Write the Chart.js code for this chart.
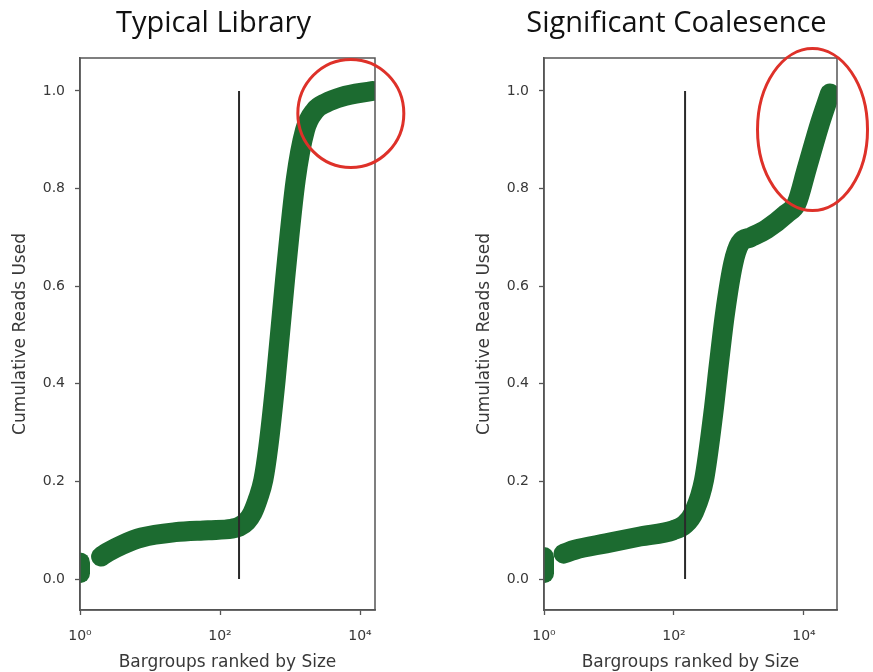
<!DOCTYPE html>
<html>
<head>
<meta charset="utf-8">
<script src="https://cdn.jsdelivr.net/npm/chart.js@4.4.1/dist/chart.umd.min.js"></script>
<style>
html, body { margin: 0; padding: 0; background: #fff; overflow: hidden; }
#wrap { position: relative; width: 873px; height: 672px; }
canvas { position: absolute; top: 0; }
</style>
</head>
<body>
<div id="wrap">
  <canvas id="typicalChart" width="436" height="672" style="left:0"></canvas>
  <canvas id="sigChart" width="437" height="672" style="left:436px"></canvas>
</div>
<script>
// axis ticks
const yTicks = [0, 0.2, 0.4, 0.6, 0.8, 1.0];
const xTicks = [1, 100, 10000];
const xTickLabels = ['10\u2070', '10\u00b2', '10\u2074'];

// typical library
const typicalFirstRank = [1, 1];
const typicalFirstReads = [0.012, 0.034];
const typicalRank = [2, 2.5, 4, 7.6, 23, 68, 147, 187, 240, 290, 350, 416, 490, 624, 849, 1206, 1638, 2276, 3200, 5470, 15000];
const typicalReads = [0.046, 0.055, 0.07, 0.085, 0.096, 0.1, 0.103, 0.107, 0.118, 0.135, 0.165, 0.203, 0.271, 0.408, 0.613, 0.818, 0.92, 0.96, 0.975, 0.988, 1.0];
const typicalCut = [187, 187];
const typicalCutReads = [0, 1];

// significant coalesence
const sigFirstRank = [1, 1];
const sigFirstReads = [0.012, 0.045];
const sigRank = [2, 3, 9, 30, 98, 148, 204, 290, 403, 490, 609, 817, 1036, 1500, 2668, 5420, 7710, 10990, 17630, 25100];
const sigReads = [0.052, 0.06, 0.073, 0.087, 0.1, 0.112, 0.138, 0.203, 0.34, 0.44, 0.544, 0.647, 0.688, 0.70, 0.717, 0.749, 0.77, 0.84, 0.934, 0.995];
const sigCut = [148, 148];
const sigCutReads = [0, 1];

const green = '#1c6b30';
const axisGray = '#555';
const textGray = '#383838';

function pts(xs, ys) {
    return xs.map((x, i) => ({ x: x, y: ys[i] }));
}

// frame on all four sides + title + red highlight ellipse
const decor = {
    id: 'decor',
    afterDatasetsDraw(chart) {
        const { ctx, chartArea } = chart;
        ctx.save();
        ctx.strokeStyle = axisGray;
        ctx.lineWidth = 1.5;
        ctx.strokeRect(chartArea.left, chartArea.top, chartArea.right - chartArea.left, chartArea.bottom - chartArea.top);
        ctx.restore();
    },
    afterDraw(chart, args, opts) {
        const { ctx, chartArea, scales } = chart;
        ctx.save();
        // title sits a little left of the plot box centre, like the original
        ctx.font = "29px 'Open Sans'";
        ctx.fillStyle = '#111';
        ctx.textAlign = 'center';
        ctx.textBaseline = 'alphabetic';
        ctx.fillText(opts.title, (chartArea.left + chartArea.right) / 2 - 14, 32);
        // red circle
        const cx = scales.x.getPixelForValue(opts.circleX);
        const cy = scales.y.getPixelForValue(opts.circleY);
        ctx.beginPath();
        ctx.ellipse(cx, cy, opts.rx, opts.ry, 0, 0, Math.PI * 2);
        ctx.strokeStyle = '#de3129';
        ctx.lineWidth = 3;
        ctx.stroke();
        ctx.restore();
    }
};

function makePanel(id, first, main, cut, xMax, padLeft, padRight, decorOpts) {
    return new Chart(document.getElementById(id), {
        type: 'line',
        data: {
            datasets: [{
                data: cut,
                borderColor: '#2a2a2a',
                borderWidth: 2,
                pointRadius: 0
            }, {
                data: main,
                borderColor: green,
                borderWidth: 20,
                borderCapStyle: 'round',
                borderJoinStyle: 'round',
                cubicInterpolationMode: 'monotone',
                pointRadius: 0,
                clip: 0
            }, {
                data: first,
                borderColor: green,
                borderWidth: 20,
                borderCapStyle: 'round',
                pointRadius: 0,
                clip: 0
            }]
        },
        options: {
            responsive: false,
            animation: false,
            events: [],
            layout: { padding: { top: 58, left: padLeft, right: padRight, bottom: 0 } },
            plugins: {
                legend: { display: false },
                tooltip: { enabled: false },
                decor: decorOpts
            },
            scales: {
                x: {
                    type: 'logarithmic',
                    min: 1,
                    max: xMax,
                    afterBuildTicks: s => { s.ticks = xTicks.map(v => ({ value: v })); },
                    afterFit: s => { s.height = 62; },
                    ticks: {
                        autoSkip: false,
                        maxRotation: 0,
                        padding: 13,
                        color: textGray,
                        font: { family: 'DejaVu Sans', size: 14 },
                        callback: v => xTickLabels[xTicks.indexOf(v)]
                    },
                    grid: { drawOnChartArea: false, tickLength: 5, color: axisGray, tickWidth: 1.3 },
                    border: { color: axisGray, width: 1.5 },
                    title: {
                        display: true,
                        text: 'Bargroups ranked by Size',
                        color: textGray,
                        font: { family: 'DejaVu Sans', size: 17 },
                        padding: { top: 0, bottom: -1 }
                    }
                },
                y: {
                    min: -0.0635,
                    max: 1.0676,
                    afterBuildTicks: s => { s.ticks = yTicks.map(v => ({ value: v })); },
                    afterFit: s => { s.width = 80; },
                    ticks: {
                        padding: 10,
                        color: textGray,
                        font: { family: 'DejaVu Sans', size: 14 },
                        callback: v => v.toFixed(1)
                    },
                    grid: { drawOnChartArea: false, tickLength: 5, color: axisGray, tickWidth: 1.3 },
                    border: { color: axisGray, width: 1.5 },
                    title: {
                        display: true,
                        text: 'Cumulative Reads Used',
                        color: textGray,
                        font: { family: 'DejaVu Sans', size: 17 },
                        padding: { top: 10, bottom: 0 }
                    }
                }
            }
        },
        plugins: [decor]
    });
}

//typical library
const typicalChart = makePanel('typicalChart',
    pts(typicalFirstRank, typicalFirstReads),
    pts(typicalRank, typicalReads),
    pts(typicalCut, typicalCutReads),
    16370, 0, 61,
    { title: 'Typical Library', circleX: 7390, circleY: 0.954, rx: 53, ry: 54 });

//significant coalesence
const sigChart = makePanel('sigChart',
    pts(sigFirstRank, sigFirstReads),
    pts(sigRank, sigReads),
    pts(sigCut, sigCutReads),
    32190, 28, 36,
    { title: 'Significant Coalesence', circleX: 13520, circleY: 0.921, rx: 55, ry: 81 });
</script>
</body>
</html>
